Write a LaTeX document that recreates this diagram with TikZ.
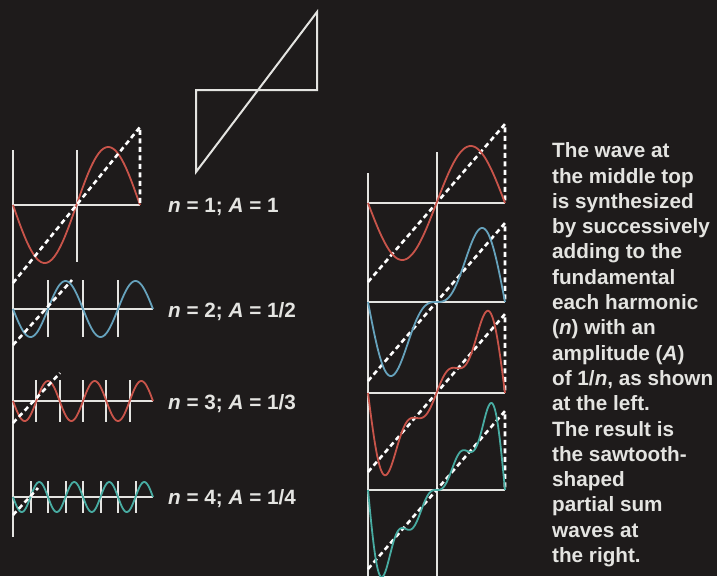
\documentclass[tikz,border=0pt]{standalone}
\usepackage{fontspec}
\setmainfont{Liberation Sans}
\definecolor{bg}{RGB}{30,27,27}
\definecolor{ln}{RGB}{228,228,225}
\definecolor{wred}{RGB}{200,84,74}
\definecolor{wblue}{RGB}{102,162,188}
\definecolor{wteal}{RGB}{72,172,162}
\tikzset{
  axisline/.style={ln, line width=2pt},
  wave/.style={line width=1.8pt},
  dashline/.style={white, line width=2.6pt, dash pattern=on 5pt off 3.5pt},
  txt/.style={text=ln, anchor=base west, inner sep=0pt, font=\fontsize{20.7}{25}\selectfont\bfseries},
}
\begin{document}
\begin{tikzpicture}[x=1pt,y=-1pt,
  declare function={th(\x)=(\x-436.5)/68.5*180;}]
\useasboundingbox (0,0) rectangle (717,576);
\fill[bg] (0,0) rectangle (717,576);
\clip (0,0) rectangle (717,576);

% top sawtooth
\draw[axisline, line join=miter] (196,172) -- (317,12) -- (317,90) -- (196,90) -- cycle;

% ---------- left column ----------
\draw[axisline] (13,150) -- (13,537);
% n = 1
\draw[axisline] (13,205) -- (140,205);
\draw[axisline] (77,150) -- (77,262);
\draw[wave, wred] plot[domain=13:140, samples=150, smooth] (\x, {205 - 58*sin((\x-76.5)/63.5*180)});
\draw[dashline] (13,283) -- (140,127) -- (140,205);
% n = 2
\draw[axisline] (13,309) -- (153,309);
\foreach \v in {48,83,118} \draw[axisline] (\v,280) -- (\v,337);
\draw[wave, wblue] plot[domain=13:153, samples=160, smooth] (\x, {309 + 28*sin((\x-83)/70*360)});
\draw[dashline] (13,345) -- (72,280);
% n = 3
\draw[axisline] (13,401) -- (153,401);
\foreach \v in {36.3,59.7,83,106.3,129.7} \draw[axisline] (\v,380) -- (\v,422);
\draw[wave, wred] plot[domain=13:153, samples=180, smooth] (\x, {401 - 20*sin((\x-83)/70*540)});
\draw[dashline] (13,423) -- (60,373);
% n = 4
\draw[axisline] (13,497) -- (153,497);
\foreach \v in {30.5,48,65.5,83,100.5,118,135.5} \draw[axisline] (\v,481) -- (\v,513);
\draw[wave, wteal] plot[domain=13:153, samples=200, smooth] (\x, {497 + 15*sin((\x-83)/70*720)});
\draw[dashline] (13,515) -- (38,488);

% labels
\node[txt] (n1) at (168,212.4) {\textit{n} = 1; \textit{A} = 1};
\node[txt] (n2) at (168,317.4) {\textit{n} = 2; \textit{A} = 1/2};
\node[txt] (n3) at (168,409.4) {\textit{n} = 3; \textit{A} = 1/3};
\node[txt] (n4) at (168,504.4) {\textit{n} = 4; \textit{A} = 1/4};

% ---------- right column ----------
\draw[axisline] (368,173) -- (368,576);
\draw[axisline] (436.5,152) -- (436.5,576);
\foreach \a in {203,302,393,490} {
  \draw[axisline] (368,\a) -- (505,\a);
  \draw[dashline] (368,\a+79) -- (505,\a-79) -- (505,\a);
}
\draw[wave, wred] plot[domain=368:505, samples=160, smooth]
  (\x, {203 - 57*sin(th(\x))});
\draw[wave, wblue] plot[domain=368:505, samples=180, smooth]
  (\x, {302 - 57*(sin(th(\x)) - sin(2*th(\x))/2)});
\draw[wave, wred] plot[domain=368:505, samples=200, smooth]
  (\x, {393 - 57*(sin(th(\x)) - sin(2*th(\x))/2 + sin(3*th(\x))/3)});
\draw[wave, wteal] plot[domain=368:505, samples=220, smooth]
  (\x, {490 - 57*(sin(th(\x)) - sin(2*th(\x))/2 + sin(3*th(\x))/3 - sin(4*th(\x))/4)});

% ---------- caption ----------
\node[txt] (t1)  at (552,157.7) {The wave at};
\node[txt] (t2)  at (552,183.0) {the middle top};
\node[txt] (t3)  at (552,208.3) {is synthesized};
\node[txt] (t4)  at (552,233.6) {by successively};
\node[txt] (t5)  at (552,258.9) {adding to the};
\node[txt] (t6)  at (552,284.2) {fundamental};
\node[txt] (t7)  at (552,309.5) {each harmonic};
\node[txt] (t8)  at (552,334.8) {(\textit{n}) with an};
\node[txt] (t9)  at (552,360.1) {amplitude (\textit{A})};
\node[txt] (t10) at (552,385.4) {of 1/\textit{n}, as shown};
\node[txt] (t11) at (552,410.7) {at the left.};
\node[txt] (t12) at (552,436.0) {The result is};
\node[txt] (t13) at (552,461.3) {the sawtooth-};
\node[txt] (t14) at (552,486.6) {shaped};
\node[txt] (t15) at (552,511.9) {partial sum};
\node[txt] (t16) at (552,537.2) {waves at};
\node[txt] (t17) at (552,562.5) {the right.};
\end{tikzpicture}
\end{document}
